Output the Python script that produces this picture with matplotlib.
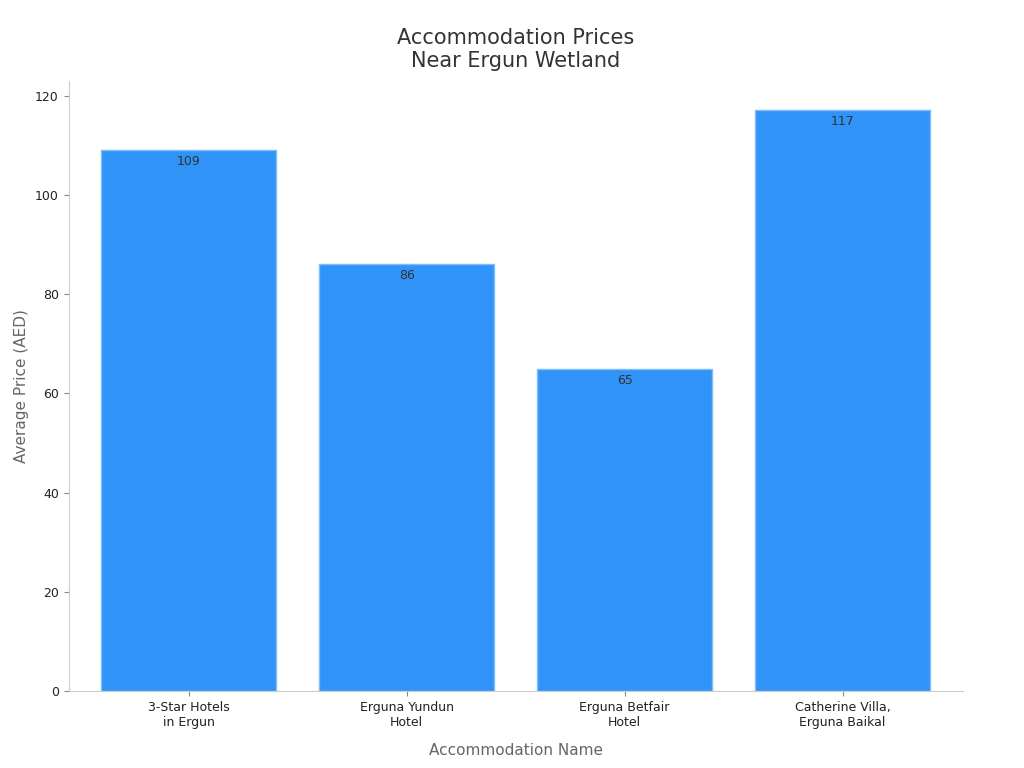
import matplotlib
matplotlib.use("Agg")
import matplotlib.pyplot as plt

categories = ["3-Star Hotels\nin Ergun", "Erguna Yundun\nHotel", "Erguna Betfair\nHotel", "Catherine Villa,\nErguna Baikal"]
prices = [109, 86, 65, 117]

plt.rcParams['font.family'] = ['DejaVu Sans']
fig, ax = plt.subplots(figsize=(10.24, 7.68), dpi=100)
fig.subplots_adjust(left=0.067, right=0.94, top=0.895, bottom=0.1)

bars = ax.bar(range(len(prices)), prices, width=0.8, color='#2F93F8', edgecolor='#7FBDF9', linewidth=1)
for b, v in zip(bars, prices):
    ax.text(b.get_x() + b.get_width() / 2, v - 1, str(v), ha='center', va='top', fontsize=9, color='#333333')

ax.set_xticks(range(len(prices)))
ax.set_xticklabels(categories, fontsize=9, color='#222222')
ax.tick_params(axis='y', labelsize=9, colors='#222222')
ax.tick_params(colors='#888888', labelcolor='#222222')
ax.set_xlim(-0.55, 3.55)
ax.set_ylim(0, 123)
ax.set_xlabel("Accommodation Name", fontsize=11, color='#666666', labelpad=10)
ax.set_ylabel("Average Price (AED)", fontsize=11, color='#666666')
ax.set_title("Accommodation Prices\nNear Ergun Wetland", fontsize=15, color='#333333', pad=10)
for s in ['top', 'right']:
    ax.spines[s].set_visible(False)
for s in ['left', 'bottom']:
    ax.spines[s].set_color('#CCCCCC')

fig.savefig("out.png")
